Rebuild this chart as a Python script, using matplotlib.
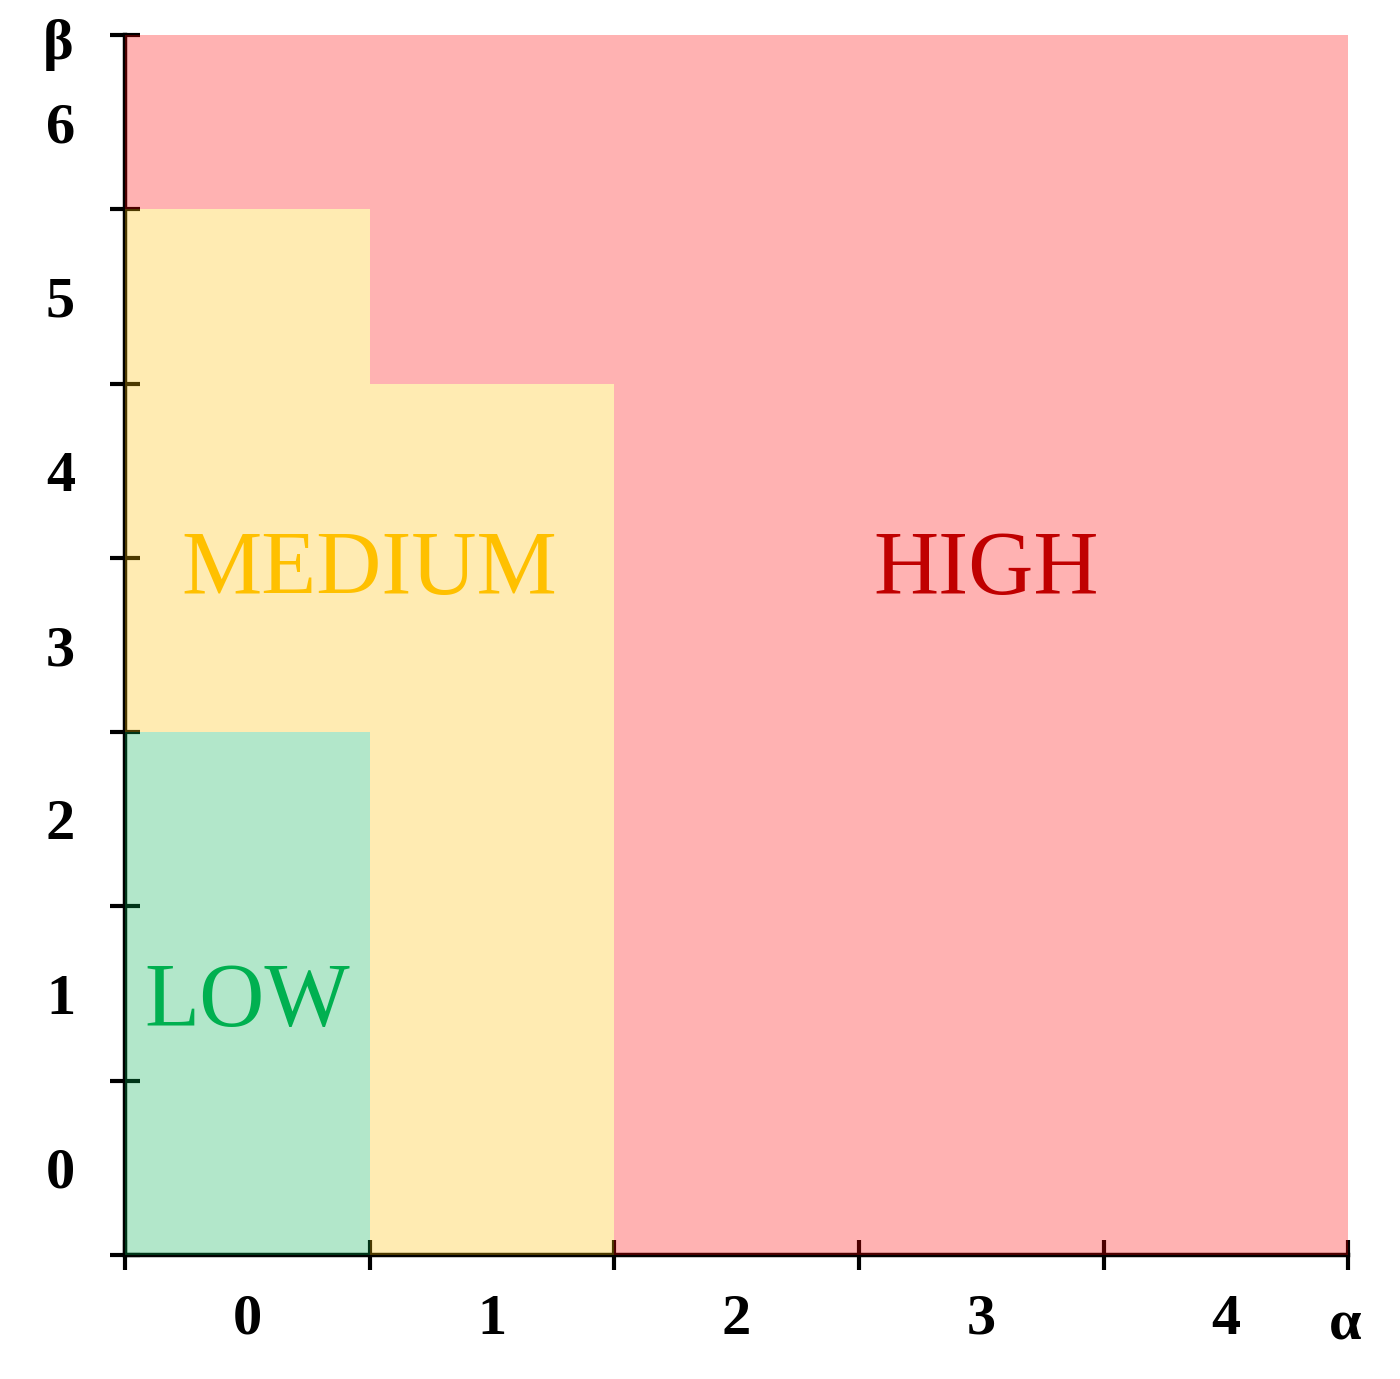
import matplotlib.pyplot as plt
from matplotlib.patches import Rectangle

# risk level of each (alpha, beta) cell: 0 low, 1 medium, 2 high
alpha_vals = [0, 1, 2, 3, 4]
beta_vals = [0, 1, 2, 3, 4, 5, 6]
# highest beta that is still low / medium, per alpha column
low_max = [2, -1, -1, -1, -1]
medium_max = [5, 4, -1, -1, -1]

level_colors = ['#00B050', '#FFC000', '#FF0000']
level_names = ['LOW', 'MEDIUM', 'HIGH']
text_colors = ['#00B050', '#FFC000', '#C00000']
label_pos = [(0.0, 0.94), (0.5, 3.42), (3.02, 3.42)]

plt.rcParams['font.family'] = ['Liberation Serif', 'DejaVu Serif']

fig = plt.figure(figsize=(14, 13.79), dpi=100)
ax = fig.add_axes([0.0893, 0.0899, 0.8737, 0.8847])

for i, a in enumerate(alpha_vals):
    for b in beta_vals:
        if b <= low_max[i]:
            lev = 0
        elif b <= medium_max[i]:
            lev = 1
        else:
            lev = 2
        ax.add_patch(Rectangle((a - 0.5, b - 0.5), 1, 1, facecolor=level_colors[lev],
                               alpha=0.3, edgecolor='none', lw=0, zorder=3))

for name, col, (x, y) in zip(level_names, text_colors, label_pos):
    ax.text(x, y, name, color=col, fontsize=65, ha='center', va='center', zorder=5)

ax.set_xlim(-0.5, 4.5)
ax.set_ylim(-0.5, 6.5)
ax.spines['top'].set_visible(False)
ax.spines['right'].set_visible(False)
for s in ['left', 'bottom']:
    ax.spines[s].set_linewidth(3.2)
    ax.spines[s].set_color('black')
    ax.spines[s].set_zorder(2)

ax.set_xticks(alpha_vals)
ax.set_yticks(beta_vals)
ax.set_xticks([a - 0.5 for a in alpha_vals] + [4.5], minor=True)
ax.set_yticks([b - 0.5 for b in beta_vals] + [6.5], minor=True)
ax.tick_params(which='major', length=0, labelsize=42, pad=28)
ax.tick_params(axis='y', which='major', pad=36)
ax.tick_params(which='minor', direction='inout', length=22, width=3, color='black')
for lab in ax.get_xticklabels() + ax.get_yticklabels():
    lab.set_fontweight('bold')
for t in ax.xaxis.get_minor_ticks() + ax.yaxis.get_minor_ticks():
    t.tick1line.set_zorder(6)

fig.text(1345 / 1400, 1 - 1325 / 1379, 'α', fontsize=42, fontweight='bold', ha='center', va='center')
fig.text(58 / 1400, 1 - 45 / 1379, 'β', fontsize=42, fontweight='bold', ha='center', va='center')

fig.savefig('out.png', dpi=100, facecolor='white')
